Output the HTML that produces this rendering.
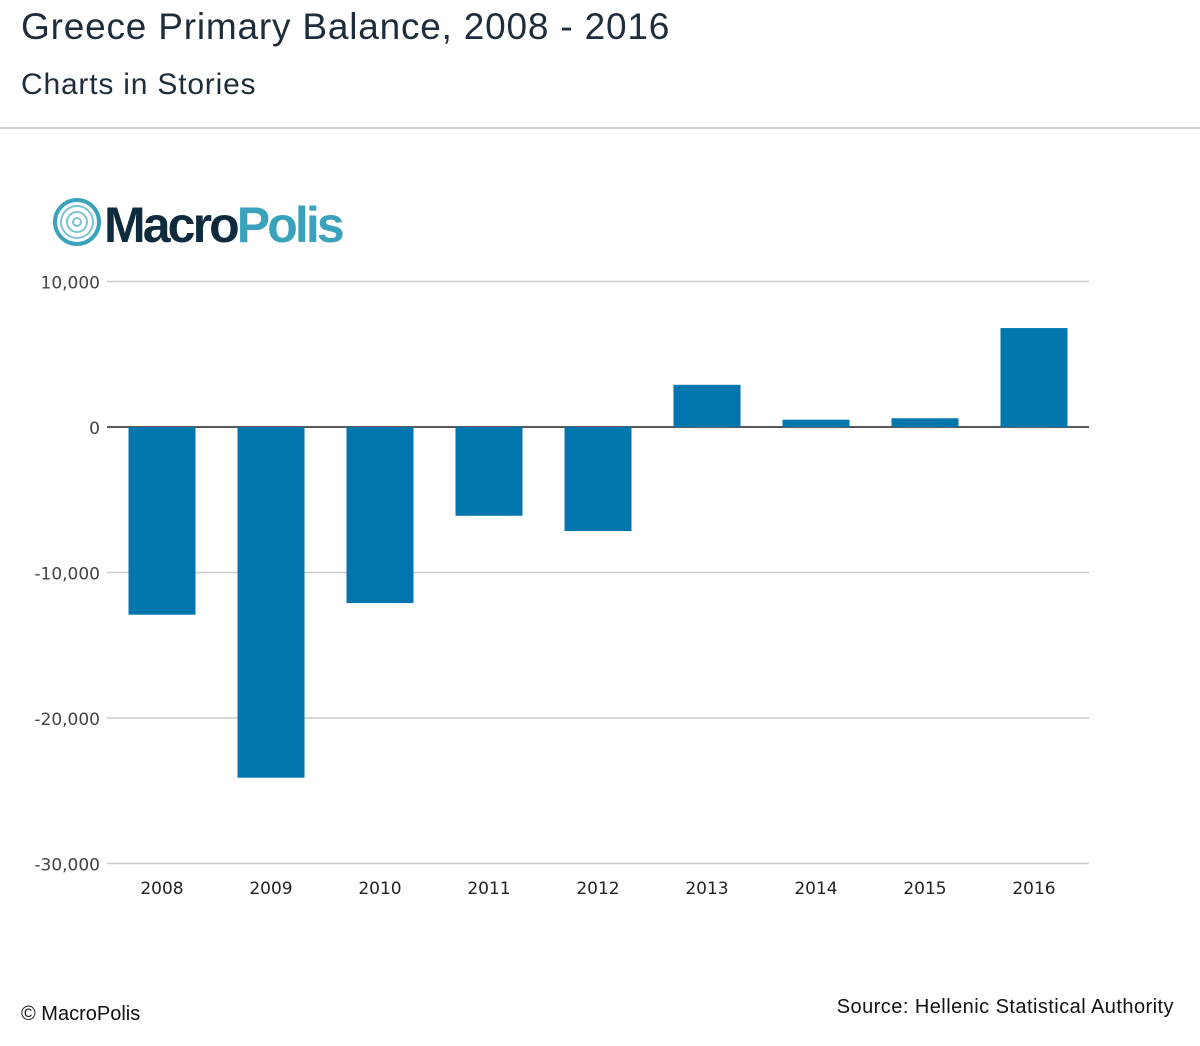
<!DOCTYPE html>
<html><head><meta charset="utf-8"><style>
body{margin:0;width:1200px;height:1046px;background:#fff;font-family:"Liberation Sans",sans-serif;overflow:hidden;position:relative}
.t{position:absolute;left:21px;color:#1f2d3a}
</style></head><body>
<div class="t" style="top:6px;font-size:37px;letter-spacing:0.8px">Greece Primary Balance, 2008 - 2016</div>
<div class="t" style="top:68px;font-size:30px;letter-spacing:0.8px">Charts in Stories</div>
<div style="position:absolute;top:127px;left:0;width:1200px;height:2px;background:#d0d0d0"></div>
<svg id="c" width="1200" height="1046" style="position:absolute;left:0;top:0">
<g>
<circle cx="77" cy="222" r="22" fill="none" stroke="#3aa3bb" stroke-width="4"/>
<circle cx="77" cy="222" r="16" fill="none" stroke="#7cc4d4" stroke-width="2"/>
<circle cx="77" cy="222" r="10" fill="none" stroke="#7cc4d4" stroke-width="2"/>
<circle cx="77" cy="222" r="4" fill="none" stroke="#7cc4d4" stroke-width="2"/>
<text x="104" y="242" font-size="50" font-weight="bold" fill="#0e2a3d" font-family="Liberation Sans,sans-serif" letter-spacing="-2.9">Macro<tspan fill="#3aa3bb">Polis</tspan></text>
</g>
</svg>
<div class="t" style="top:1003px;font-size:20px;color:#111">© MacroPolis</div>
<div style="position:absolute;top:996px;right:26px;font-size:20px;color:#111;letter-spacing:0.45px">Source: Hellenic Statistical Authority</div>
<script>
const categories=["2008","2009","2010","2011","2012","2013","2014","2015","2016"];
const values=[-12900,-24100,-12100,-6100,-7150,2900,500,600,6800];
const ticks=[10000,0,-10000,-20000,-30000];
const tickLabels=["10,000","0","-10,000","-20,000","-30,000"];
const svg=document.getElementById('c');const NS="http://www.w3.org/2000/svg";
const x0=107.5,band=109,bw=67;
const y=v=>427-v*0.01455;
const xc=i=>x0+band*(i+0.5);
function mk(t,a){const e=document.createElementNS(NS,t);for(const k in a)e.setAttribute(k,a[k]);svg.appendChild(e);return e;}
ticks.forEach((t,i)=>{
 const l=mk('line',{x1:107,x2:1089,y1:y(t),y2:y(t),stroke:t===0?'#222':'#ccc','stroke-width':1.5});
 
 
 const tx=mk('text',{x:100,y:y(t)+7,'text-anchor':'end','font-size':17,fill:'#444','font-family':'DejaVu Sans,sans-serif'});
 tx.textContent=tickLabels[i];
 
 
});
values.forEach((v,i)=>{
 const r=mk('rect',{x:xc(i)-bw/2,y:Math.min(y(v),y(0)),width:bw,height:Math.abs(y(v)-y(0)),fill:'#0176ae'});
 
 
 const tx=mk('text',{x:xc(i),y:894,'text-anchor':'middle','font-size':17,fill:'#222','font-family':'DejaVu Sans,sans-serif'});
 tx.textContent=categories[i];
 
 
});
</script>
</body></html>
